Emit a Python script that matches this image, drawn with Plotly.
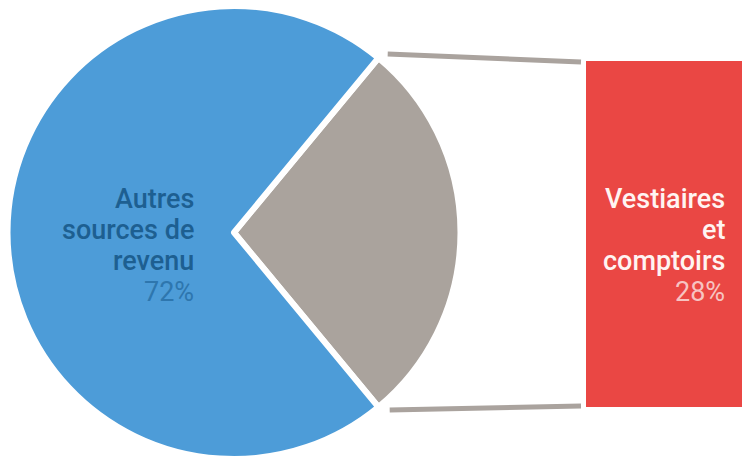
import plotly.graph_objects as go
import math

# Data
labels = ["Vestiaires et comptoirs", "Autres sources de revenu"]
values = [28, 72]
colors = ["#aaa39d", "#4d9cd8"]
label_lines = [["Vestiaires", "et", "comptoirs"], ["Autres", "sources de", "revenu"]]

W, H = 742, 459
cx, cy, R = 234, 233, 227  # pie centre / radius in px

gray_share = values[0] / sum(values)
half_angle = gray_share * 360 / 2
rotation = 90 - half_angle

fig = go.Figure()

# invisible pixel axis for decorations
fig.add_trace(go.Scatter(x=[0, W], y=[0, H], mode="markers",
                         marker=dict(opacity=0), hoverinfo="skip", showlegend=False))

fig.add_trace(go.Pie(
    labels=labels, values=values, sort=False, direction="clockwise",
    rotation=rotation, textinfo="none", hoverinfo="label+percent",
    marker=dict(colors=colors, line=dict(color="white", width=6)),
    domain=dict(x=[max(0, (cx - R) / W), min(1, (cx + R) / W)],
                y=[max(0, (H - cy - R) / H), min(1, (H - cy + R) / H)]),
    showlegend=False,
))

a = math.radians(half_angle)
top_pt = (cx + R * math.cos(a) + 9, cy - R * math.sin(a) - 4)
bot_pt = (cx + R * math.cos(a) + 11, cy + R * math.sin(a) + 2)
rect_x0, rect_y0, rect_y1 = 586, 61, 407

shapes = [
    dict(type="rect", xref="x", yref="y", x0=rect_x0, x1=W, y0=rect_y0, y1=rect_y1,
         fillcolor="#ea4744", line=dict(width=0), layer="below"),
    dict(type="line", xref="x", yref="y", x0=top_pt[0], y0=top_pt[1], x1=rect_x0 - 5, y1=62,
         line=dict(color="#aaa39e", width=5)),
    dict(type="line", xref="x", yref="y", x0=bot_pt[0], y0=bot_pt[1], x1=rect_x0 - 5, y1=406,
         line=dict(color="#aaa39e", width=5)),
]

font_family = "Roboto"
fs = 27
baselines = [208, 239, 270, 301]
ann = []
for side, (xr, lab_col, pct_col) in enumerate([(727, "#fff4f2", "#f7c4c2"), (196, "#1d5f91", "#2e76ae")]):
    lines = label_lines[side] + [f"{values[side]}%"]
    for i, t in enumerate(lines):
        is_pct = i == len(lines) - 1
        ann.append(dict(
            x=xr, y=baselines[i] - 9, xref="x", yref="y", xanchor="right", yanchor="middle",
            showarrow=False, text=t,
            font=dict(family=font_family, size=fs,
                      color=pct_col if is_pct else lab_col,
                      weight=400 if is_pct else 500),
        ))

fig.update_layout(
    width=W, height=H, margin=dict(l=0, r=0, t=0, b=0),
    paper_bgcolor="white", plot_bgcolor="white",
    xaxis=dict(range=[0, W], visible=False, fixedrange=True),
    yaxis=dict(range=[H, 0], visible=False, fixedrange=True),
    shapes=shapes, annotations=ann,
)

fig.write_html("out.html", config={"displayModeBar": False},
               post_script="document.body.style.margin='0px';document.body.style.overflow='hidden';")
